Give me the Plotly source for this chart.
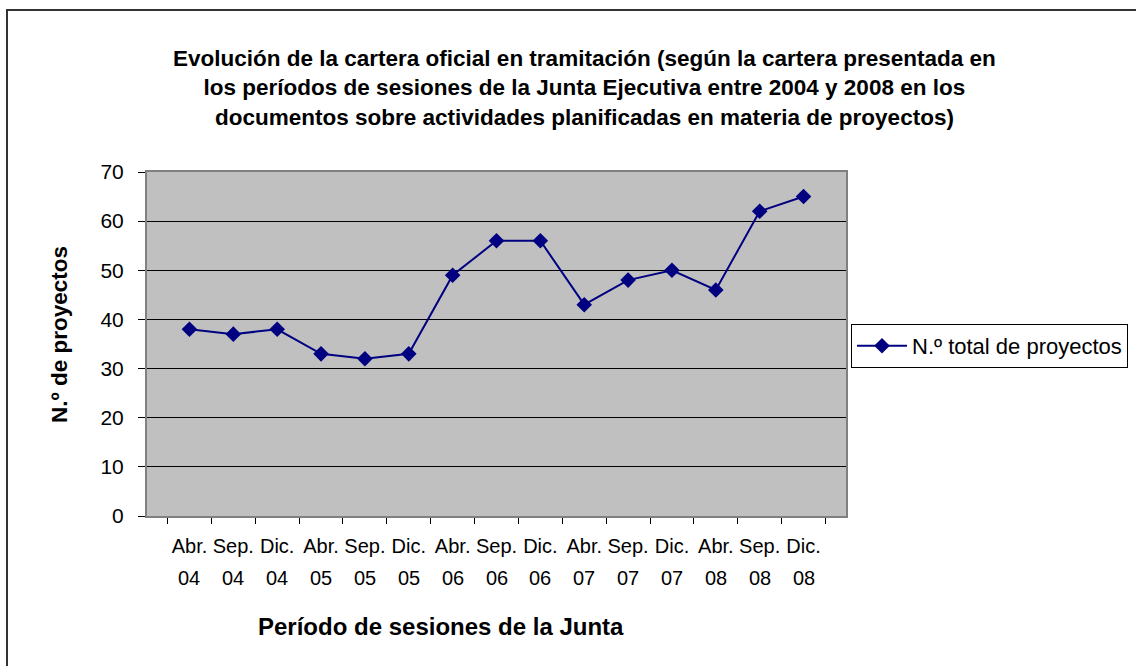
import plotly.graph_objects as go

months = ["Abr.", "Sep.", "Dic."] * 5
years = ["04"] * 3 + ["05"] * 3 + ["06"] * 3 + ["07"] * 3 + ["08"] * 3
categories = [f"{m} {y}" for m, y in zip(months, years)]
values = [38, 37, 38, 33, 32, 33, 49, 56, 56, 43, 48, 50, 46, 62, 65]
series_name = "N.º total de proyectos"
title_text = ("Evolución de la cartera oficial en tramitación (según la cartera presentada en<br>"
              "los períodos de sesiones de la Junta Ejecutiva entre 2004 y 2008 en los<br>"
              "documentos sobre actividades planificadas en materia de proyectos)")
x_title = "Período de sesiones de la Junta"
y_title = "N.º de proyectos"

FONT = "Liberation Sans, Arial, sans-serif"

fig = go.Figure()
fig.add_trace(go.Scatter(
    x=categories, y=values, name=series_name, mode="lines+markers",
    line=dict(color="#000080", width=2),
    marker=dict(symbol="diamond", size=12, color="#000080"),
))

W, H = 1136, 666
L, R, T, B = 147, 290, 172, 150
pw, ph = W - L - R, H - T - B

def px(x):
    return (x - L) / pw

def py(y):
    return (H - B - y) / ph

year_annotations = [
    dict(text=y, xref="x", yref="paper", x=c, y=py(578), xanchor="center", yanchor="middle",
         showarrow=False, font=dict(family=FONT, size=20, color="black"))
    for c, y in zip(categories, years)
]

fig.update_layout(
    width=W, height=H,
    margin=dict(l=L, r=R, t=T, b=B, autoexpand=False),
    paper_bgcolor="white", plot_bgcolor="#C0C0C0",
    showlegend=True,
    legend=dict(x=px(851), y=py(324), xanchor="left", yanchor="top",
                bordercolor="black", borderwidth=1, bgcolor="white", itemwidth=50,
                font=dict(family=FONT, size=22, color="black")),
    xaxis=dict(type="category", tickmode="array", tickvals=categories, ticktext=months,
               tickson="boundaries", ticks="outside", ticklen=6, tickangle=0,
               tickcolor="black", showgrid=False, showline=True, linecolor="#808080",
               linewidth=2, mirror=True, ticklabelstandoff=11,
               tickfont=dict(family=FONT, size=20, color="black")),
    yaxis=dict(range=[0, 70], dtick=10, ticks="outside", ticklen=7, tickcolor="black",
               showgrid=True, gridcolor="black", gridwidth=1, zeroline=False,
               showline=True, linecolor="#808080", linewidth=2, mirror=True,
               ticklabelstandoff=10,
               tickfont=dict(family=FONT, size=21, color="black")),
    annotations=[
        dict(text=title_text, xref="paper", yref="paper", x=px(584), y=py(88),
             xanchor="center", yanchor="middle", showarrow=False,
             font=dict(family=FONT, size=22.5, color="black", weight="bold")),
        dict(text=x_title, xref="paper", yref="paper", x=px(441), y=py(626),
             xanchor="center", yanchor="middle", showarrow=False,
             font=dict(family=FONT, size=24, color="black", weight="bold")),
        dict(text=y_title, xref="paper", yref="paper", x=px(59), y=py(335),
             xanchor="center", yanchor="middle", showarrow=False, textangle=-90,
             font=dict(family=FONT, size=22.5, color="black", weight="bold")),
    ] + year_annotations,
    shapes=[dict(type="rect", xref="paper", yref="paper",
                 x0=px(7), x1=px(1160), y0=py(690), y1=py(10),
                 line=dict(color="#333333", width=2), fillcolor="rgba(0,0,0,0)")],
)

fig.write_html("out.html", config={"displayModeBar": False},
               post_script="document.body.style.margin='0';document.body.style.overflow='hidden';")
